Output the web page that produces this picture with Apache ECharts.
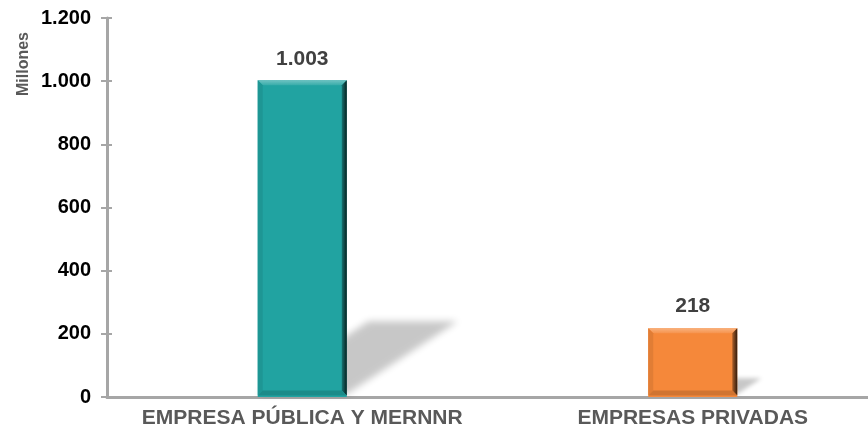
<!DOCTYPE html>
<html><head><meta charset="utf-8">
<script src="https://cdn.jsdelivr.net/npm/echarts@6/dist/echarts.min.js"></script>
<style>html,body{margin:0;padding:0;background:#fff}#c{width:868px;height:434px}</style>
</head><body><div id="c"></div>
<script>
var categories = ['EMPRESA PÚBLICA Y MERNNR', 'EMPRESAS PRIVADAS'];
var values = [1003, 218];
var barColors = ['#21A3A1', '#F5883A'];
var yTicks = [0, 200, 400, 600, 800, 1000, 1200];
var yTitle = 'Millones';
var BAR_FRAC = 0.228;

function fmt(v){ return String(v).replace(/\B(?=(\d{3})+(?!\d))/g, '.'); }
function shade(hex, f){
  var n = parseInt(hex.slice(1),16), r=n>>16, g=(n>>8)&255, b=n&255;
  function c(x){ return Math.max(0,Math.min(255,Math.round(f<0? x*(1+f) : x+(255-x)*f))); }
  return 'rgb('+c(r)+','+c(g)+','+c(b)+')';
}

var chart = echarts.init(document.getElementById('c'));
var data = values.map(function(v,i){ return {value: v, itemStyle:{color: barColors[i]}}; });
var FONT = 'Liberation Sans, Arial, sans-serif';
var OFF = 3000;

chart.setOption({
  animation: false,
  graphic: [{type: 'text', x: 24, y: 64, rotation: Math.PI/2,
    style: {text: yTitle, fill: '#595959', font: 'bold 16px ' + FONT, align: 'center', verticalAlign: 'middle'}}],
  grid: {left: 107, width: 781, top: 18, bottom: 37, containLabel: false, outerBoundsMode: 'none'},
  xAxis: {
    type: 'category', data: categories,
    axisLine: {lineStyle: {color: '#A6A6A6', width: 3}},
    axisTick: {show: false},
    axisLabel: {color: '#595959', fontFamily: FONT, fontWeight: 'bold', fontSize: 21, margin: 11, interval: 0, hideOverlap: false}
  },
  yAxis: [{
    type: 'value', min: yTicks[0], max: yTicks[yTicks.length-1], interval: yTicks[1]-yTicks[0],
    axisLine: {show: true, lineStyle: {color: '#A6A6A6', width: 3}},
    axisTick: {show: true, length: 6, lineStyle: {color: '#A6A6A6', width: 2}},
    splitLine: {show: false},
    axisLabel: {color: '#000', fontFamily: FONT, fontWeight: 'bold', fontSize: 20, margin: 16, formatter: fmt}
  }, {
    type: 'value', min: yTicks[0], max: yTicks[yTicks.length-1], interval: yTicks[1]-yTicks[0], position: 'left',
    axisLine: {show: false},
    axisTick: {show: true, inside: true, length: 5, lineStyle: {color: '#A6A6A6', width: 2}},
    splitLine: {show: false}, axisLabel: {show: false}
  }],
  series: [{
    type: 'custom', z: 1, data: values.map(function(v,i){ return [i, v]; }),
    renderItem: function(params, api){
      var i = api.value(0), v = api.value(1);
      var top = api.coord([i, v]), base = api.coord([i, 0]);
      var w = api.size([1, 0])[0] * BAR_FRAC;
      var hBar = base[1] - top[1];
      var h = hBar * 0.23, dx = hBar * 0.35;
      var l = top[0] - w/2 - OFF, r = top[0] + w/2 - OFF, y0 = base[1] - 3;
      return {type: 'polygon', shape: {points: [[l, y0], [l+dx, y0-h], [r+dx, y0-h], [r, y0]]},
        style: {fill: '#000', shadowBlur: Math.max(3, Math.min(7, h*0.3)), shadowOffsetX: OFF, shadowColor: 'rgba(0,0,0,0.22)'}};
    }
  }, {
    type: 'bar', z: 2, data: data, barWidth: (BAR_FRAC*100)+'%',
    label: {show: true, position: 'top', distance: 11, color: '#404040', fontFamily: FONT, fontWeight: 'bold', fontSize: 21, formatter: function(p){ return fmt(p.value); }}
  }, {
    type: 'custom', z: 3, data: values.map(function(v,i){ return [i, v]; }),
    renderItem: function(params, api){
      var i = api.value(0), v = api.value(1);
      var top = api.coord([i, v]), base = api.coord([i, 0]);
      var w = api.size([1, 0])[0] * BAR_FRAC;
      var l = top[0] - w/2, r = top[0] + w/2, t = top[1], b = base[1] - 1.5;
      var bw = 5, c = barColors[i];
      return {type: 'group', children: [
        {type: 'polygon', shape: {points: [[l,t],[r,t],[r-bw,t+bw],[l+bw,t+bw]]}, style: {fill: new echarts.graphic.LinearGradient(0,0,0,1,[{offset:0,color:shade(c,0.35)},{offset:1,color:shade(c,0.1)}])}},
        {type: 'polygon', shape: {points: [[r,t],[r,b],[r-bw,b-bw],[r-bw,t+bw]]}, style: {fill: new echarts.graphic.LinearGradient(0,0,1,0,[{offset:0,color:shade(c,-0.3)},{offset:1,color:shade(c,-0.8)}])}},
        {type: 'polygon', shape: {points: [[l,t],[l+bw,t+bw],[l+bw,b-bw],[l,b]]}, style: {fill: shade(c, -0.08)}},
        {type: 'polygon', shape: {points: [[l,b],[l+bw,b-bw],[r-bw,b-bw],[r,b]]}, style: {fill: shade(c, -0.15)}}
      ]};
    }
  }]
});
</script></body></html>
